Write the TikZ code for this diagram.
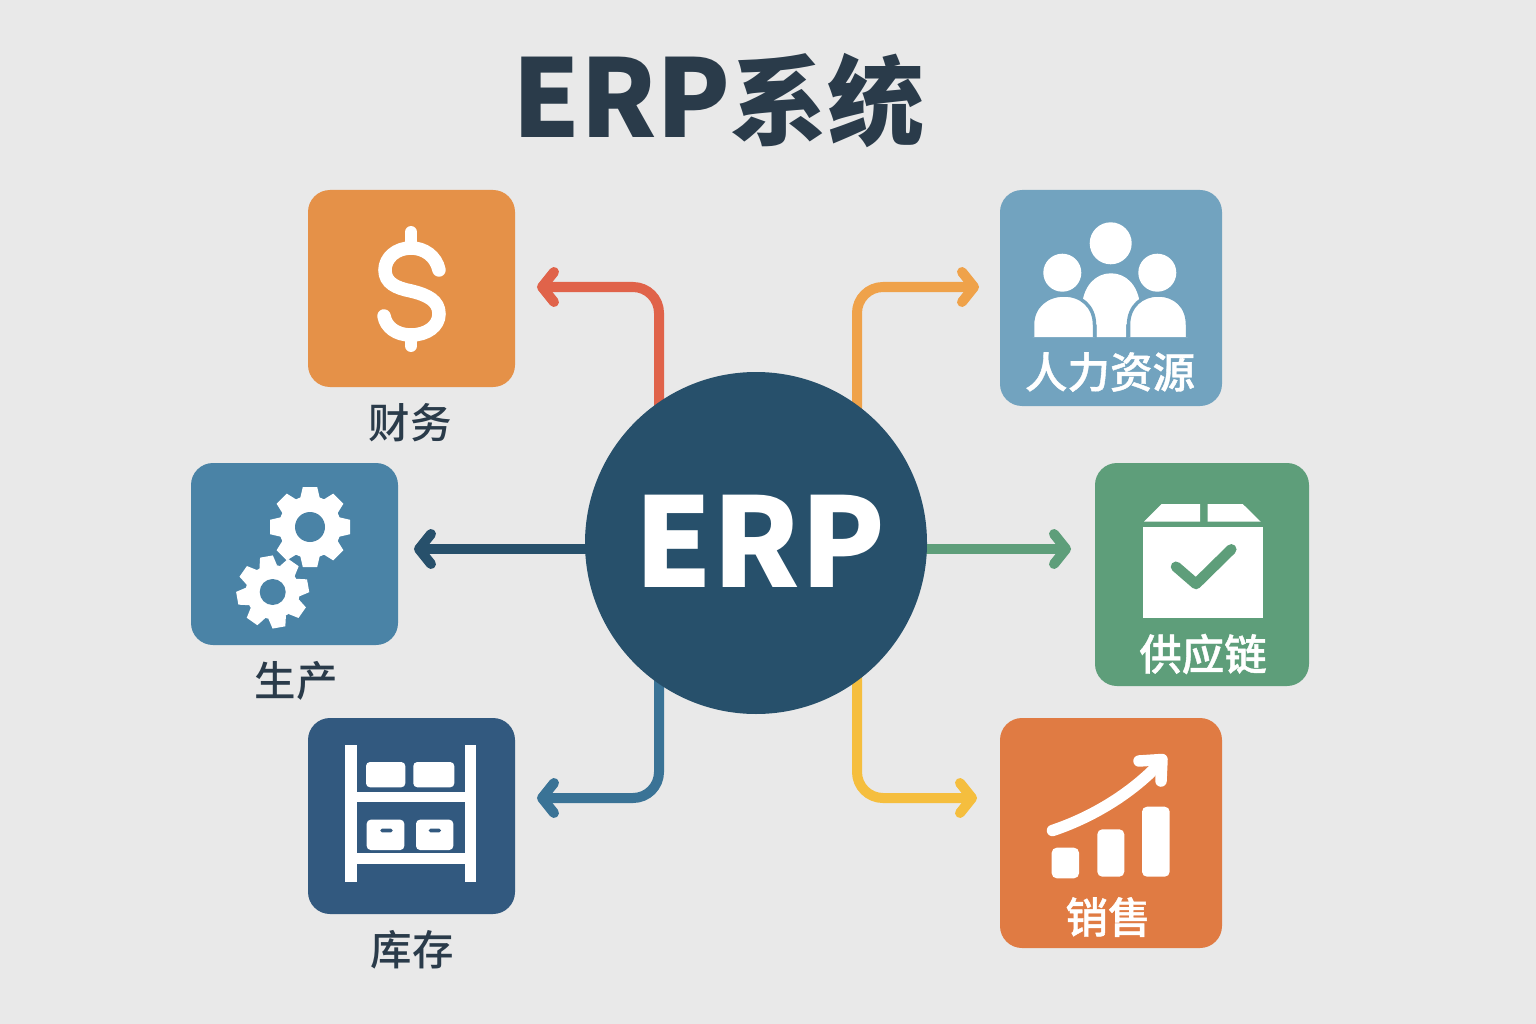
\documentclass[tikz,border=0pt]{standalone}
\usepackage{fontspec}
\usetikzlibrary{arrows.meta,backgrounds}
\newfontfamily\cjk{Noto Sans CJK SC}
\newfontfamily\cjkm{Noto Sans CJK SC Medium}
\newfontfamily\cjks{Noto Sans CJK SC Medium}[FakeBold=1]
\definecolor{bgc}{HTML}{E9E9E9}
\definecolor{ink}{HTML}{2A3B4A}
\definecolor{core}{HTML}{27506B}
\definecolor{cFin}{HTML}{E59148}
\definecolor{cHR}{HTML}{72A3BF}
\definecolor{cProd}{HTML}{4A83A6}
\definecolor{cSup}{HTML}{5E9E7A}
\definecolor{cInv}{HTML}{32597F}
\definecolor{cSale}{HTML}{E07B43}
\definecolor{aRed}{HTML}{E0634A}
\definecolor{aOra}{HTML}{EFA24A}
\definecolor{aBlu}{HTML}{3A7396}
\definecolor{aYel}{HTML}{F5BE3E}
\tikzset{
 card/.style={rounded corners=22pt,inner sep=0pt,draw=none},
 cardlabel/.style={text=white,inner sep=0pt,font=\cjks\fontsize{42.5}{44}\selectfont},
 outlabel/.style={text=ink,inner sep=0pt,font=\cjkm\fontsize{41.5}{44}\selectfont},
 conn/.style={line width=10pt,rounded corners=26pt,-{Straight Barb[round,length=12pt,width=30pt]}},
}
\newcommand{\gearicon}[7]{% x y outer body hole rot bg
 \begin{scope}[shift={(#1,#2)}]
 \fill[white] (0,0) circle[radius=#4pt];
 \foreach \a in {0,45,...,315}{
  \fill[white,rotate=\a+#6] (-0.25*#3,-0.7*#3) -- (-0.18*#3,-#3) -- (0.18*#3,-#3) -- (0.25*#3,-0.7*#3) -- cycle;
 }
 \fill[#7] (0,0) circle[radius=#5pt];
 \end{scope}}
\begin{document}
\begin{tikzpicture}[x=1pt,y=-1pt]
\useasboundingbox (0,0) rectangle (1536,1024);
% title
\node[text=ink,inner sep=0pt,font=\cjk\bfseries\fontsize{108}{112}\selectfont] (title) at (718.5,101) {ERP{\cjkm\bfseries\fontsize{97}{112}\selectfont 系统}};
% hub
\node[circle,fill=core,minimum size=342pt,inner sep=0pt] (erp) at (756,543) {};
\node[text=white,inner sep=0pt,font=\cjk\bfseries\fontsize{124}{128}\selectfont] (erpText) at (760,541) {ERP};
% cards
\node[card,fill=cFin,minimum width=207pt,minimum height=197pt] (fin) at (411.5,288.5) {};
\node[card,fill=cHR,minimum width=222pt,minimum height=216pt] (hr) at (1111,298) {};
\node[card,fill=cProd,minimum width=207pt,minimum height=182pt] (prod) at (294.5,554) {};
\node[card,fill=cSup,minimum width=214pt,minimum height=223pt] (sup) at (1202,574.5) {};
\node[card,fill=cInv,minimum width=207pt,minimum height=196pt] (inv) at (411.5,816) {};
\node[card,fill=cSale,minimum width=222pt,minimum height=230pt] (sale) at (1111,833) {};
% labels
\node[outlabel] (lFin) at (410,423) {财务};
\node[outlabel] (lProd) at (296,681) {生产};
\node[outlabel] (lInv) at (412,950) {库存};
\node[cardlabel] (lHR) at (1110,372) {人力资源};
\node[cardlabel] (lSup) at (1203,654) {供应链};
\node[cardlabel] (lSale) at (1108,917) {销售};
% connector ends
\coordinate (tFin) at (537,287);
\coordinate (tHR) at (979,287);
\coordinate (tProd) at (414,549);
\coordinate (tSup) at (1071,549);
\coordinate (tInv) at (537,798);
\coordinate (tSale) at (977,798);
\coordinate (xL) at (659,543);
\coordinate (xR) at (857,543);
\begin{scope}[on background layer]
\fill[bgc] (0,0) rectangle (1536,1024);
\draw[conn,draw=aRed] (xL) |- (tFin);
\draw[conn,draw=aOra] (xR) |- (tHR);
\draw[conn,draw=core] (erp.center |- tProd) -- (tProd);
\draw[conn,draw=cSup] (erp.center |- tSup) -- (tSup);
\draw[conn,draw=aBlu] (xL) |- (tInv);
\draw[conn,draw=aYel] (xR) |- (tSale);
\end{scope}
% dollar
\draw[white,line width=13.5pt,line cap=round] (439,270) .. controls (436,256) and (424,248) .. (411,248) .. controls (396,248) and (385,258) .. (385,270) .. controls (385,283) and (396,288) .. (411,291) .. controls (428,295) and (439,301) .. (439,314) .. controls (439,326) and (427,335) .. (411,335) .. controls (396,335) and (386,327) .. (384,316);
\draw[white,line width=12pt,line cap=round] (411,232) -- (411,248) (411,335) -- (411,346);
% gears
\gearicon{310}{527}{40}{31}{15}{0}{cProd}
\gearicon{272.7}{592}{36}{27}{13}{10}{cProd}
% people
\fill[white] (1110.7,243.3) circle[radius=21pt];
\fill[white] (1062.3,272.7) circle[radius=19pt];
\fill[white] (1157.3,272.7) circle[radius=19pt];
\fill[white] (1096.7,337) -- (1096.7,325) -- (1082,305) .. controls (1084,285) and (1096,273.3) .. (1111,273.3) .. controls (1126,273.3) and (1138,285) .. (1140,305) -- (1126,325) -- (1126,337) -- cycle;
\filldraw[fill=white,draw=cHR,line width=3.5pt] (1032.5,337) -- (1032.5,325) .. controls (1032.5,306) and (1047,295) .. (1064,295) .. controls (1081,295) and (1094.5,306) .. (1094.5,325) -- (1094.5,337);
\filldraw[fill=white,draw=cHR,line width=3.5pt] (1128.5,337) -- (1128.5,325) .. controls (1128.5,306) and (1142,295) .. (1158,295) .. controls (1175,295) and (1187.5,306) .. (1187.5,325) -- (1187.5,337);
\fill[cHR] (1028,337.5) rectangle (1192,342);
% parcel
\fill[white] (1144,521.7) -- (1161.7,504) -- (1200,504) -- (1200,521.7) -- cycle;
\fill[white] (1207.7,521.7) -- (1207.7,504) -- (1242.7,504) -- (1260.7,521.7) -- cycle;
\fill[white] (1142.7,526.7) rectangle (1262.7,617.7);
\draw[cSup,line width=10.5pt,line cap=round,line join=round] (1176,566.7) -- (1196,584) -- (1231.3,549.3);
% chart
\fill[white,rounded corners=5pt] (1051.7,847.7) rectangle (1079,878.3);
\fill[white,rounded corners=5pt] (1097.3,829.3) rectangle (1124.3,876.7);
\fill[white,rounded corners=5pt] (1142,806.7) rectangle (1169.7,876.7);
\draw[white,line width=11.5pt,line cap=round] (1052.5,830.5) .. controls (1090,818) and (1130,795) .. (1160,763);
\draw[white,line width=11.5pt,line cap=round,line join=round] (1139,761) -- (1162,759.5) -- (1161,781);
% shelf
\fill[white] (345.3,745) rectangle (356.7,882.3);
\fill[white] (464.7,745) rectangle (475.7,882.3);
\fill[white] (356,791.7) rectangle (465,802.3);
\fill[white] (356,853.3) rectangle (465,864.3);
\fill[white,rounded corners=4pt] (366,762) rectangle (405.3,787.3);
\fill[white,rounded corners=4pt] (413.3,762) rectangle (454.3,787.3);
\fill[white,rounded corners=4pt] (366.7,819.7) rectangle (404.3,850);
\fill[white,rounded corners=4pt] (416,819.7) rectangle (453.3,850);
\fill[cInv,rounded corners=1.7pt] (380.3,828.7) rectangle (392.7,832.3);
\fill[cInv,rounded corners=1.7pt] (428.7,828.7) rectangle (441,832.3);
\end{tikzpicture}
\end{document}
